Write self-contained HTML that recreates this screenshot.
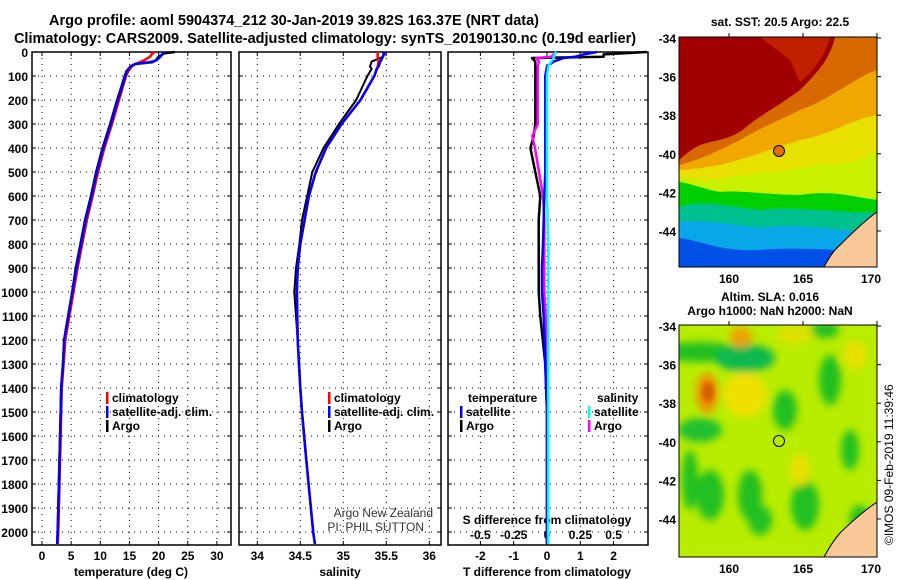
<!DOCTYPE html>
<html><head><meta charset="utf-8"><style>
body{margin:0;background:#fff;}
svg{display:block;font-family:"Liberation Sans",Arial,sans-serif;}
text{font-weight:bold;font-size:12px;fill:#000;}
</style></head><body>
<svg id="fig" width="900" height="580" viewBox="0 0 900 580" xmlns="http://www.w3.org/2000/svg">
<text x="294" y="25" text-anchor="middle" style="font-size:14.5px">Argo profile: aoml 5904374_212 30-Jan-2019 39.82S 163.37E (NRT data)</text>
<text x="325" y="43" text-anchor="middle" style="font-size:14.5px">Climatology: CARS2009. Satellite-adjusted climatology: synTS_20190130.nc (0.19d earlier)</text>
<g id="g1"></g>
<g id="g2"></g>
<g id="g3"></g>
<g id="m1"></g>
<g id="m2"></g>
</svg>
<script>
// ---------- data ----------
const depthTicks=[0,100,200,300,400,500,600,700,800,900,1000,1100,1200,1300,1400,1500,1600,1700,1800,1900,2000];
const tTicks=[0,5,10,15,20,25,30];
const sTicks=[34,34.5,35,35.5,36];
const dTTicks=[-2,-1,0,1,2];
const dSTicks=[-0.5,-0.25,0,0.25,0.5];
const dSTickLabels=["-0.5","-0.25","0","0.25","0.5"];

const zArgoT=[0,5,20,35,42,50,60,80,100,200,300,400,500,600,700,800,900,1000,1100,1200,1300,1400,1500,1600,1700,1800,1900,2000,2050];
const tArgo=[22.8,21,20,19.5,19,16,15.2,14.5,14.2,12.9,11.7,10.4,9.3,8.4,7.4,6.6,5.8,5.2,4.5,3.8,3.6,3.3,3.2,3.1,3.0,2.9,2.8,2.7,2.6];
const tClim=[19.4,19,18.5,17.5,16.8,16,15.4,14.8,14.4,13.2,12.0,10.7,9.6,8.7,7.7,6.9,6.1,5.4,4.7,4.0,3.7,3.4,3.3,3.2,3.1,3.0,2.9,2.8,2.7];
const tSat=[21,20.8,20.3,19.6,18.5,16,15.2,14.6,14.3,13.0,11.8,10.5,9.4,8.5,7.5,6.7,5.9,5.2,4.5,3.8,3.6,3.3,3.2,3.1,3.0,2.9,2.8,2.7,2.6];

const zS=[0,20,40,60,70,100,200,300,400,500,600,700,800,900,1000,1200,1400,1500,1700,2000,2050];
const sArgo=[35.47,35.46,35.33,35.31,35.33,35.28,35.15,34.95,34.77,34.64,34.58,34.52,34.49,34.45,34.43,34.47,34.50,34.52,34.57,34.65,34.67];
const sClim=[35.40,35.40,35.41,35.40,35.39,35.36,35.2,34.98,34.8,34.68,34.6,34.55,34.5,34.47,34.46,34.47,34.50,34.52,34.57,34.65,34.67];
const sSat=[35.49,35.46,35.43,35.41,35.39,35.36,35.2,34.98,34.8,34.68,34.6,34.55,34.5,34.47,34.46,34.47,34.50,34.52,34.57,34.65,34.67];

const zD=[0,10,20,25,40,60,100,200,300,350,400,500,600,700,800,900,1000,1100,1300,1500,1700,2000,2050];
const dTArgo=[3.0,1.7,1.7,-0.45,-0.35,-0.35,-0.35,-0.35,-0.35,-0.4,-0.5,-0.35,-0.2,-0.25,-0.25,-0.25,-0.25,-0.2,-0.05,0,0,0,0];
const dTSat=[1.5,1.1,0.84,0.5,0.2,0,-0.05,-0.05,-0.05,-0.05,-0.05,-0.05,-0.08,-0.1,-0.12,-0.15,-0.15,-0.1,-0.05,0,0,0,0];
const dSArgo=[0.07,0.05,0.03,-0.08,-0.06,-0.07,-0.07,-0.07,-0.07,-0.11,-0.09,-0.06,-0.03,-0.02,-0.02,-0.02,-0.02,-0.01,0,0,0,0,0];
const dSSat=[0.07,0.06,0.05,0.05,0.03,0.01,0,0,0,0,0,0,0,0.005,0.01,0.01,0.01,0.01,0.01,0.01,0.01,0.01,0.01];

// ---------- helpers ----------
const NS="http://www.w3.org/2000/svg";
function mk(tag,attrs,parent,txt){const e=document.createElementNS(NS,tag);for(const k in attrs)e.setAttribute(k,attrs[k]);if(txt!==undefined)e.textContent=txt;parent.appendChild(e);return e;}
const Y0=52,Y1=545;
const yD=d=>Y0+d*0.24;
const xT=t=>42+t*5.83;
const xS=s=>257.3+(s-34)*86;
const xDT=v=>547+v*33.3;
const xDS=v=>547+v*133.3;

function panel(g,x0,x1,gridXs){
  const r=mk('rect',{x:x0,y:Y0,width:x1-x0,height:Y1-Y0,fill:'#fff',stroke:'#000','stroke-width':1.5},g);
  
  
  depthTicks.forEach(d=>{if(d===0)return;const l=mk('line',{x1:x0,x2:x1,y1:yD(d),y2:yD(d),stroke:'#000','stroke-dasharray':'1 5'},g);
    
    
    mk('line',{x1:x0,x2:x0+4,y1:yD(d),y2:yD(d),stroke:'#000'},g);mk('line',{x1:x1-4,x2:x1,y1:yD(d),y2:yD(d),stroke:'#000'},g);});
  gridXs.forEach(x=>{const l=mk('line',{x1:x,x2:x,y1:Y0,y2:Y1,stroke:'#000','stroke-dasharray':'1 5'},g);
    
    
    mk('line',{x1:x,x2:x,y1:Y1-4,y2:Y1,stroke:'#000'},g);mk('line',{x1:x,x2:x,y1:Y0,y2:Y0+4,stroke:'#000'},g);});
}
function line(g,xs,zs,fx,color,w,name,x0,x1){
  const pts=xs.map((v,i)=>Math.max(x0,Math.min(x1,fx(v))).toFixed(1)+','+yD(zs[i]).toFixed(1)).join(' ');
  const p=mk('polyline',{points:pts,fill:'none',stroke:color,'stroke-width':w,'stroke-linejoin':'round'},g);
  
  
}
function legend(g,x,y,color,label,name){
  mk('rect',{x:x,y:y-10,width:2.5,height:12,fill:color},g);
  const t=mk('text',{x:x+6,y:y},g,label);
  
  
}

// ---------- panel 1 ----------
const g1=document.getElementById('g1');
panel(g1,32,231,tTicks.map(xT));
depthTicks.forEach(d=>{const t=mk('text',{x:28,y:yD(d)+5,'text-anchor':'end'},g1,String(d));
  
  });
tTicks.forEach(v=>{const t=mk('text',{x:xT(v),y:560,'text-anchor':'middle'},g1,String(v));
  
  });
let xt=mk('text',{x:131,y:576,'text-anchor':'middle'},g1,'temperature (deg C)');


line(g1,tArgo,zArgoT,xT,'#000',2.5,'argo-temperature-line',32,231);
line(g1,tClim,zArgoT,xT,'#f00',2.5,'climatology-temperature-line',32,231);
line(g1,tSat,zArgoT,xT,'#00f',2.5,'satellite-temperature-line',32,231);
legend(g1,106,402,'#f00','climatology','legend-climatology');
legend(g1,106,416,'#00f','satellite-adj. clim.','legend-satellite');
legend(g1,106,430,'#000','Argo','legend-argo');

// ---------- panel 2 ----------
const g2=document.getElementById('g2');
panel(g2,239,441,sTicks.map(xS));
sTicks.forEach(v=>{const t=mk('text',{x:xS(v),y:560,'text-anchor':'middle'},g2,String(v));
  
  });
xt=mk('text',{x:340,y:576,'text-anchor':'middle'},g2,'salinity');


line(g2,sArgo,zS,xS,'#000',2,'argo-salinity-line',239,441);
line(g2,sClim,zS,xS,'#f00',2.5,'climatology-salinity-line',239,441);
line(g2,sSat,zS,xS,'#00f',2.5,'satellite-salinity-line',239,441);
legend(g2,328,402,'#f00','climatology','legend-climatology');
legend(g2,328,416,'#00f','satellite-adj. clim.','legend-satellite');
legend(g2,328,430,'#000','Argo','legend-argo');
let t1=mk('text',{x:433,y:517,'text-anchor':'end',style:'font-weight:normal;fill:#333'},g2,'Argo New Zealand');


t1=mk('text',{x:424,y:531,'text-anchor':'end',style:'font-weight:normal;fill:#333'},g2,'PI: PHIL SUTTON');



// ---------- panel 3 ----------
const g3=document.getElementById('g3');
panel(g3,448,648,dTTicks.map(xDT));
dTTicks.forEach(v=>{const t=mk('text',{x:xDT(v),y:560,'text-anchor':'middle'},g3,String(v));
  
  });
dSTicks.forEach((v,i)=>{const t=mk('text',{x:xDS(v),y:539,'text-anchor':'middle'},g3,dSTickLabels[i]);
  
  });
xt=mk('text',{x:547,y:576,'text-anchor':'middle'},g3,'T difference from climatology');


xt=mk('text',{x:547,y:524,'text-anchor':'middle'},g3,'S difference from climatology');


line(g3,dTArgo,zD,xDT,'#000',2.5,'argo-t-diff-line',448,648);
line(g3,dSArgo,zD,xDS,'#f0f',2.5,'argo-s-diff-line',448,648);
line(g3,dTSat,zD,xDT,'#00f',2.5,'satellite-t-diff-line',448,648);
line(g3,dSSat,zD,xDS,'#0ff',2.5,'satellite-s-diff-line',448,648);
xt=mk('text',{x:468,y:402},g3,'temperature');


xt=mk('text',{x:597,y:402},g3,'salinity');


legend(g3,460,416,'#00f','satellite','legend-t-satellite');
legend(g3,460,430,'#000','Argo','legend-t-argo');
legend(g3,588,416,'#0ff','satellite','legend-s-satellite');
legend(g3,588,430,'#f0f','Argo','legend-s-argo');

// ---------- maps ----------
const latLabels=["-34","-36","-38","-40","-42","-44"];
const lonLabels=["160","165","170"];
function mapAxes(g,top,bot){
  latLabels.forEach((l,i)=>{const y=top+1+i*38.6;const t=mk('text',{x:676,y:y+5,'text-anchor':'end'},g,l);
    
    
    mk('line',{x1:877,x2:881,y1:y,y2:y,stroke:'#000'},g);});
  [729,803,877].forEach((x,i)=>{const t=mk('text',{x:i===2?x-6:x,y:bot+16,'text-anchor':'middle'},g,lonLabels[i]);
    
    
    mk('line',{x1:x,x2:x,y1:top-4,y2:top,stroke:'#000'},g);});
  const fr=mk('rect',{x:679,y:top,width:198,height:bot-top,fill:'none',stroke:'#000','stroke-width':1},g);
  
  
}
const m1=document.getElementById('m1');
mk('defs',{},m1).innerHTML='<clipPath id="c1"><rect x="679" y="37" width="198" height="230"/></clipPath><clipPath id="c2"><rect x="679" y="325" width="198" height="232"/></clipPath><filter id="bl"><feGaussianBlur stdDeviation="4"/></filter><filter id="bl2"><feGaussianBlur stdDeviation="2"/></filter>';
const s1=mk('g',{'clip-path':'url(#c1)'},m1);
const bands=[
 ['#0818a0','M679,200 L877,200 L877,267 L679,267Z'],
 ['#0050e8','M679,228 C720,238 760,232 800,236 C830,232 860,230 877,226 L877,267 L679,267Z'],
 ['#08a8e8','M679,210 C720,215 760,205 800,210 C830,206 860,208 877,206 L877,250 C840,252 800,246 760,250 C720,252 700,240 679,238Z'],
 ['#00c090','M679,195 C720,198 760,195 800,198 C830,196 860,198 877,196 L877,232 C840,232 800,222 760,228 C720,222 700,220 679,222Z'],
 ['#00d000','M679,175 L877,175 L877,212 C840,214 800,205 760,210 C720,205 700,200 679,207Z'],
 ['#c8f000','M679,175 L877,140 L877,200 C850,196 830,190 800,195 C770,195 740,190 720,192 C700,188 690,183 679,182Z'],
 ['#e8e000','M679,150 L877,110 L877,150 C850,170 830,160 800,168 C770,175 740,172 720,180 C700,178 690,178 679,178Z'],
 ['#f0a800','M679,130 L877,37 L877,115 C850,120 830,135 800,140 C770,150 740,160 720,165 C700,168 690,170 679,170Z'],
 ['#d86800','M679,37 L877,37 L877,70 C850,80 830,100 800,110 C780,120 760,128 740,140 C720,150 700,160 679,165Z'],
 ['#a00000','M679,37 L835,37 C830,60 815,75 800,90 C780,105 760,115 745,128 C730,140 715,140 700,145 C690,150 685,155 679,160Z'],
 ['#c02000','M760,37 L830,37 C825,55 815,70 800,82 L790,60Z']
];
bands.forEach((b,i)=>{const p=mk('path',{d:b[1],fill:b[0]},s1);
  
  });
let land=mk('path',{d:'M877,212 C865,220 850,235 840,245 C832,252 828,260 824,267 L877,267Z',fill:'#f8c898',stroke:'#000','stroke-width':1},s1);


let dot=mk('circle',{cx:779,cy:151,r:5.5,fill:'#e07000',stroke:'#000','stroke-width':1},m1);


mapAxes(m1,37,267);
xt=mk('text',{x:780,y:26,'text-anchor':'middle'},m1,'sat. SST: 20.5 Argo: 22.5');



const m2=document.getElementById('m2');
const s2=mk('g',{'clip-path':'url(#c2)'},m2);
mk('rect',{x:679,y:325,width:198,height:232,fill:'#b8ec00'},s2);
const bf=mk('g',{filter:'url(#bl)'},s2);
const blobs=[
 ['#20c020',700,352,40,10],['#10b850',745,358,30,14],['#20c030',700,430,22,12],['#20c020',710,495,14,25],['#20c020',750,495,12,25],
 ['#20c020',805,505,14,25],['#20c020',830,380,11,25],['#20c020',785,410,12,20],['#20c020',850,450,9,20],['#20c020',760,520,12,15],
 ['#20c020',690,480,8,30],['#20c020',860,520,10,15],['#20c020',825,330,14,8],
 ['#f0e000',745,395,22,22],['#e8e000',800,470,10,16],['#e0e000',795,335,18,9],['#e8e000',855,355,12,14],
 ['#f09000',707,393,11,20],['#f0a000',741,337,11,10]];
blobs.forEach(b=>{const e=mk('ellipse',{cx:b[1],cy:b[2],rx:b[3],ry:b[4],fill:b[0]},bf);
  
  });
mk('ellipse',{cx:708,cy:392,rx:6,ry:10,fill:'#d86000',filter:'url(#bl2)'},s2);
land=mk('path',{d:'M877,502 C865,510 850,523 840,533 C832,542 828,550 824,557 L877,557Z',fill:'#f8c898',stroke:'#000','stroke-width':1},s2);


dot=mk('circle',{cx:779,cy:441,r:5.5,fill:'none',stroke:'#000','stroke-width':1},m2);


mapAxes(m2,325,557);
xt=mk('text',{x:770,y:301,'text-anchor':'middle'},m2,'Altim. SLA: 0.016');


xt=mk('text',{x:770,y:315,'text-anchor':'middle'},m2,'Argo h1000: NaN h2000: NaN');


xt=mk('text',{x:0,y:0,transform:'translate(893,545) rotate(-90)',style:'font-weight:normal'},m2,'©IMOS 09-Feb-2019 11:39:46');


</script>
</body></html>
